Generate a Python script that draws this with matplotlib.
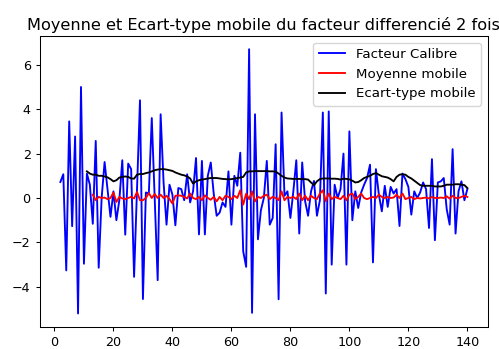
import numpy as np
import matplotlib
matplotlib.use("Agg")
import matplotlib.pyplot as plt

# Differenced factor, index 2..140
facteur_start = 2
facteur = [
    0.72, 1.07, -3.26, 3.45, -1.27, 2.77, -5.2, 5.0, -2.96, 1.1,      # 2-11
    0.6, -1.16, 2.57, -3.14, 0.0, 1.62, 0.4, -0.85, 0.3, -1.0,        # 12-21
    -0.1, 1.7, -1.65, 1.55, 1.3, -3.55, 0.4, 4.4, -4.55, 0.25,        # 22-31
    0.2, 3.6, 0.0, -3.7, 3.77, 0.7, -1.2, 0.6, 0.15, -1.23,           # 32-41
    0.45, 0.4, -0.1, 1.07, -0.2, 0.3, 1.8, -1.64, 1.67, -1.64,        # 42-51
    1.0, 1.6, 0.2, -0.8, -0.66, -0.2, -0.4, 1.2, -1.2, 1.0,           # 52-61
    0.55, 2.04, -2.4, -3.1, 6.7, -5.17, 3.77, -1.86, -0.55, 0.0,      # 62-71
    1.67, -1.2, -0.9, 2.42, -4.56, 3.85, 0.1, 0.3, -0.9, 0.3,         # 72-81
    1.7, -1.6, 1.6, -0.15, -0.8, 0.3, 0.77, -0.8, -0.1, 3.85,         # 82-91
    -4.3, 3.9, -3.0, 0.6, 0.0, 0.4, 2.0, -3.0, 3.0, -1.0,             # 92-101
    0.3, -0.45, 0.25, 0.6, 0.9, 1.5, -2.9, 1.3, 0.15, -0.6,           # 102-111
    0.55, -0.4, 0.5, 0.2, 0.4, -1.26, 1.1, 0.85, 0.5, -0.75,          # 112-121
    0.3, 0.0, 0.25, 0.7, 0.4, -1.35, 1.75, -1.9, 0.7, 0.75,           # 122-131
    0.9, -0.5, -1.2, 2.2, -1.6, 0.3, 0.75, -0.1, 0.4,                 # 132-140
]

# Rolling mean, index 13..140
moyenne_start = 13
moyenne = [
    0.15, -0.1, 0.05, 0.0, 0.02, -0.05, 0.0, 0.25, -0.18, 0.05,       # 13-22
    -0.02, -0.05, 0.0, 0.05, -0.02, 0.27, -0.1, -0.1, 0.0, 0.22,      # 23-32
    0.0, 0.18, 0.0, 0.15, 0.0, 0.1, -0.05, -0.25, 0.1, 0.12,          # 33-42
    0.1, 0.05, -0.02, 0.2, 0.0, -0.05, 0.05, -0.1, 0.12, 0.0,         # 43-52
    -0.08, 0.05, -0.15, 0.05, -0.1, 0.1, 0.05, -0.05, 0.1, 0.0,       # 53-62
    0.35, -0.3, 0.2, -0.05, 0.3, -0.15, 0.05, 0.0, 0.1, 0.15,         # 63-72
    -0.05, 0.05, 0.0, -0.1, 0.3, -0.1, 0.05, 0.0, 0.05, -0.05,        # 73-82
    0.2, -0.1, 0.1, -0.1, 0.1, 0.0, -0.05, 0.2, 0.35, -0.15,          # 83-92
    0.2, -0.05, 0.05, 0.0, -0.05, 0.1, -0.1, 0.15, 0.2, -0.05,        # 93-102
    0.05, 0.2, 0.0, -0.05, 0.0, 0.05, 0.0, 0.15, 0.05, 0.0,           # 103-112
    0.05, 0.0, 0.02, 0.15, 0.0, 0.2, -0.05, 0.0, 0.05, -0.05,         # 113-122
    0.0, -0.02, 0.0, 0.02, -0.02, 0.05, 0.0, 0.0, 0.02, 0.0,          # 123-132
    0.08, -0.03, 0.1, 0.0, 0.0, 0.05, 0.1, 0.05,                      # 133-140
]

# Rolling std, index 11..140
ecart_start = 11
ecart = [
    1.2, 1.1, 1.05, 1.05, 1.0, 1.0, 0.97, 0.93, 0.85, 0.75,           # 11-20
    0.8, 0.92, 0.95, 0.97, 0.95, 0.88, 0.87, 1.05, 1.08, 1.08,        # 21-30
    1.12, 1.15, 1.2, 1.25, 1.28, 1.3, 1.3, 1.28, 1.25, 1.22,          # 31-40
    1.15, 1.1, 1.05, 1.02, 0.97, 0.88, 0.65, 0.75, 0.8, 0.83,         # 41-50
    0.85, 0.88, 0.9, 0.9, 0.9, 0.88, 0.86, 0.85, 0.84, 0.85,          # 51-60
    0.87, 0.9, 0.92, 0.95, 1.15, 1.2, 1.2, 1.21, 1.21, 1.21,          # 61-70
    1.21, 1.21, 1.2, 1.2, 1.19, 1.1, 1.0, 0.92, 0.88, 0.87,           # 71-80
    0.86, 0.86, 0.86, 0.85, 0.85, 0.83, 0.7, 0.58, 0.75, 0.85,        # 81-90
    0.88, 0.88, 0.88, 0.87, 0.87, 0.86, 0.83, 0.87, 0.86, 0.84,       # 91-100
    0.78, 0.7, 0.72, 0.8, 0.9, 0.95, 1.0, 1.08, 1.12, 1.05,           # 101-110
    0.98, 0.95, 0.92, 0.85, 0.75, 0.95, 1.05, 1.07, 1.05, 0.95,       # 111-120
    0.88, 0.78, 0.68, 0.58, 0.55, 0.55, 0.55, 0.55, 0.52, 0.52,       # 121-130
    0.52, 0.55, 0.6, 0.6, 0.6, 0.62, 0.62, 0.6, 0.58, 0.45,           # 131-140
]

title = "Moyenne et Ecart-type mobile du facteur differencié 2 fois"
labels = ["Facteur Calibre", "Moyenne mobile", "Ecart-type mobile"]

x_f = np.arange(facteur_start, facteur_start + len(facteur))
x_m = np.arange(moyenne_start, moyenne_start + len(moyenne))
x_e = np.arange(ecart_start, ecart_start + len(ecart))

plt.rcParams['font.family'] = ['DejaVu Sans']
fig = plt.figure(figsize=(4.99, 3.49), dpi=100)
ax = fig.add_axes([40 / 499, 1 - 326.7 / 349, 447.7 / 499, 290.7 / 349])

lw = 1.35
ax.plot(x_f, facteur, color='blue', lw=lw, label=labels[0])
ax.plot(x_m, moyenne, color='red', lw=lw, label=labels[1])
ax.plot(x_e, ecart, color='black', lw=lw, label=labels[2])

ax.set_xticks([0, 20, 40, 60, 80, 100, 120, 140])
ax.set_yticks([-4, -2, 0, 2, 4, 6])
ax.tick_params(labelsize=9.2, length=3.2, width=0.75)
for s in ax.spines.values():
    s.set_linewidth(0.75)

ax.set_title(title, fontsize=11.6, pad=4.5)
ax.legend(loc='upper right', fontsize=9.6)

fig.savefig("out.png", dpi=100)
